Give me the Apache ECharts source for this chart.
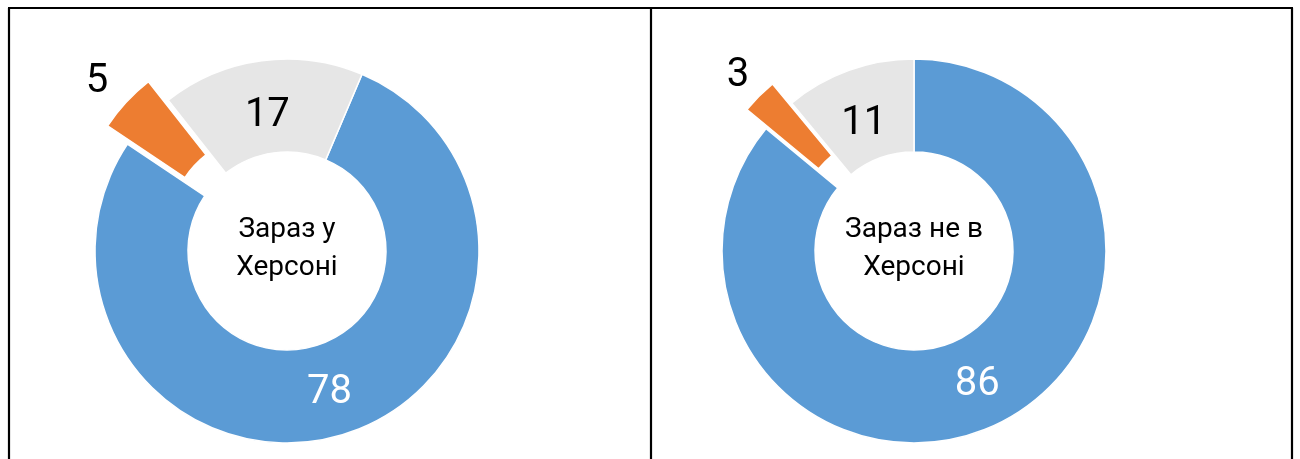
<!DOCTYPE html>
<html>
<head>
<meta charset="utf-8">
<script src="https://cdn.jsdelivr.net/npm/echarts@6/dist/echarts.min.js"></script>
<style>
html,body{margin:0;padding:0;background:#fff;}
#chart{width:1300px;height:459px;}
</style>
</head>
<body>
<div id="chart"></div>
<script>
const categories = ['Так', 'Ні', 'Важко відповісти'];
const valuesInKherson = [78, 5, 17];
const valuesOutside = [86, 3, 11];
const titles = ['Зараз у\nХерсоні', 'Зараз не в\nХерсоні'];
const colors = ['#5B9BD5', '#ED7D31', '#E6E6E6'];

const FONT = 'Roboto';

function buildData(vals, orangeLine, orangeDist, greyPad) {
  return vals.map((v, i) => {
    const item = { name: categories[i], value: v, itemStyle: { color: colors[i] } };
    if (i === 0) {
      item.label = { position: 'inside', color: '#fff' };
    } else if (i === 1) {
      item.selected = true;
      item.label = { position: 'outside', color: '#000', distanceToLabelLine: orangeDist };
      item.labelLine = { show: false, length: orangeLine, length2: 0 };
    } else {
      item.label = {
        position: 'inside',
        formatter: '{p|}\n{v|{c}}',
        rich: {
          p: { height: greyPad, lineHeight: greyPad, fontSize: 10 },
          v: { fontFamily: FONT, fontSize: 40, color: '#000', lineHeight: 48 }
        }
      };
    }
    return item;
  });
}

function pieSeries(vals, cx, startAngle, orangeLine, orangeDist, greyPad) {
  return {
    type: 'pie',
    center: [cx, 251],
    radius: [99, 192],
    startAngle: startAngle,
    clockwise: true,
    selectedMode: 'single',
    selectedOffset: 27,
    avoidLabelOverlap: false,
    silent: true,
    animation: false,
    itemStyle: { borderColor: '#fff', borderWidth: 1.5 },
    label: {
      show: true,
      formatter: '{c}',
      fontFamily: FONT,
      fontSize: 40,
      fontWeight: 'normal'
    },
    labelLine: { show: false },
    emphasis: { disabled: true },
    data: buildData(vals, orangeLine, orangeDist, greyPad)
  };
}

const chart = echarts.init(document.getElementById('chart'), null, { renderer: 'canvas' });
const lineStyle = { stroke: '#000', lineWidth: 2.2 };
chart.setOption({
  animation: false,
  series: [
    pieSeries(valuesInKherson, 287, 67, 30, -4, 24),
    pieSeries(valuesOutside, 914, 90, 28, -10, 26)
  ],
  graphic: [
    { type: 'line', shape: { x1: 8, y1: 8, x2: 1293, y2: 8 }, style: lineStyle },
    { type: 'line', shape: { x1: 9, y1: 8, x2: 9, y2: 459 }, style: lineStyle },
    { type: 'line', shape: { x1: 651, y1: 8, x2: 651, y2: 459 }, style: lineStyle },
    { type: 'line', shape: { x1: 1292, y1: 8, x2: 1292, y2: 459 }, style: lineStyle },
    { type: 'text', x: 287, y: 249, style: { text: titles[0], font: '28px ' + FONT, fill: '#000', align: 'center', verticalAlign: 'middle', lineHeight: 38 } },
    { type: 'text', x: 914, y: 249, style: { text: titles[1], font: '28px ' + FONT, fill: '#000', align: 'center', verticalAlign: 'middle', lineHeight: 38 } }
  ]
});
</script>
</body>
</html>
